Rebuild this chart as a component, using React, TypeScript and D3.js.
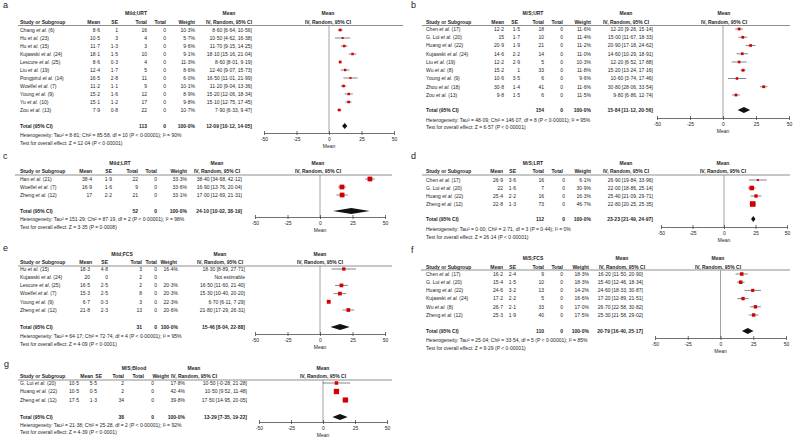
// @ts-nocheck
import React, { useEffect, useRef } from "react";
import * as d3 from "d3";

const FONT = "'Liberation Sans', Arial, sans-serif";
const FS = 5;
const axisTicks = [-50, -25, 0, 25, 50];

// a: Mild;URT
const aStudies = ["Chang et al. (6)", "Hu et al. (23)", "Hu et al. (15)", "Kujawski et al. (24)", "Lescure et al. (25)", "Liu et al. (19)", "Pongpirul et al. (14)", "Woelfel et al. (7)", "Young et al. (9)", "Yu et al. (10)", "Zou et al. (13)"];
const aMean = [8.6, 10.5, 11.7, 18.1, 8.6, 12.4, 16.5, 11.2, 15.2, 15.1, 7.9];
const aSE = [1, 3, 1.3, 1.5, 0.3, 1.7, 2.8, 1.1, 1.6, 1.2, 0.8];
const aTotal = [16, 4, 3, 10, 4, 5, 11, 9, 12, 17, 22];
const aWeight = [10.3, 5.7, 9.6, 9.1, 11.3, 8.6, 6.0, 10.1, 8.9, 9.8, 10.7];
const aLow = [6.64, 4.62, 9.15, 15.16, 8.01, 9.07, 11.01, 9.04, 12.06, 12.75, 6.33];
const aHigh = [10.56, 16.38, 14.25, 21.04, 9.19, 15.73, 21.99, 13.36, 18.34, 17.45, 9.47];
const aPooled = [12.09, 10.12, 14.05];
const aHet = "Heterogeneity: Tau² = 8·81; Chi² = 85·58, df = 10 (P < 0·00001); I² = 90%";
const aTest = "Test for overall effect: Z = 12·04 (P < 0·00001)";

// b: M/S;URT
const bStudies = ["Chen et al. (17)", "G. Lui et al. (20)", "Huang et al. (22)", "Kujawski et al. (24)", "Liu et al. (19)", "Wu et al. (8)", "Young et al. (9)", "Zhou et al. (18)", "Zou et al. (13)"];
const bMean = [12.2, 15, 20.9, 14.6, 12.2, 15.2, 10.6, 30.8, 9.8];
const bSE = [1.5, 1.7, 1.9, 2.2, 2.9, 1, 3.5, 1.4, 1.5];
const bTotal = [18, 10, 21, 14, 5, 33, 6, 41, 6];
const bWeight = [11.6, 11.4, 11.2, 11.0, 10.3, 11.8, 9.6, 11.6, 11.5];
const bLow = [9.26, 11.67, 17.18, 10.29, 6.52, 13.24, 3.74, 28.06, 6.86];
const bHigh = [15.14, 18.33, 24.62, 18.91, 17.88, 17.16, 17.46, 33.54, 12.74];
const bPooled = [15.84, 11.12, 20.56];
const bHet = "Heterogeneity: Tau² = 48·09; Chi² = 146·07, df = 8 (P < 0·00001); I² = 95%";
const bTest = "Test for overall effect: Z = 6·57 (P < 0·00001)";

// c: Mild;LRT
const cStudies = ["Han et al. (21)", "Woelfel et al. (7)", "Zheng et al. (12)"];
const cMean = [38.4, 16.9, 17];
const cSE = [1.9, 1.6, 2.2];
const cTotal = [22, 9, 21];
const cWeight = [33.3, 33.6, 33.1];
const cLow = [34.68, 13.76, 12.69];
const cHigh = [42.12, 20.04, 21.31];
const cPooled = [24.1, 10.02, 38.19];
const cHet = "Heterogeneity: Tau² = 151·29; Chi² = 87·19, df = 2 (P < 0·00001); I² = 98%";
const cTest = "Test for overall effect: Z = 3·35 (P = 0·0008)";

// d: M/S;LRT
const dStudies = ["Chen et al. (17)", "G. Lui et al. (20)", "Huang et al. (22)", "Zheng et al. (12)"];
const dMean = [26.9, 22, 25.4, 22.8];
const dSE = [3.6, 1.6, 2.2, 1.3];
const dTotal = [16, 7, 16, 73];
const dWeight = [6.1, 30.9, 16.3, 46.7];
const dLow = [19.84, 18.86, 21.09, 20.25];
const dHigh = [33.96, 25.14, 29.71, 25.35];
const dPooled = [23.23, 21.49, 24.97];
const dHet = "Heterogeneity: Tau² = 0·00; Chi² = 2·71, df = 3 (P = 0·44); I² = 0%";
const dTest = "Test for overall effect: Z = 26·14 (P < 0·00001)";

// e: Mild;FCS
const eStudies = ["Hu et al. (15)", "Kujawski et al. (24)", "Lescure et al. (25)", "Woelfel et al. (7)", "Young et al. (9)", "Zheng et al. (12)"];
const eMean = [18.3, 20, 16.5, 15.3, 6.7, 21.8];
const eSE = [4.8, 0, 2.5, 2.5, 0.3, 2.3];
const eTotal = [3, 2, 2, 8, 3, 13];
const eWeight = [16.4, null, 20.3, 20.3, 22.3, 20.6];
const eLow = [8.89, null, 11.6, 10.4, 6.11, 17.29];
const eHigh = [27.71, null, 21.4, 20.2, 7.29, 26.31];
const ePooled = [15.46, 8.04, 22.88];
const eHet = "Heterogeneity: Tau² = 64·17; Chi² = 72·74, df = 4 (P < 0·00001); I² = 95%";
const eTest = "Test for overall effect: Z = 4·09 (P < 0·0001)";

// f: M/S;FCS
const fStudies = ["Chen et al. (17)", "G. Lui et al. (20)", "Huang et al. (22)", "Kujawski et al. (24)", "Wu et al. (8)", "Zheng et al. (12)"];
const fMean = [16.2, 15.4, 24.6, 17.2, 26.7, 25.3];
const fSE = [2.4, 1.5, 3.2, 2.2, 2.1, 1.9];
const fTotal = [9, 10, 13, 5, 33, 40];
const fWeight = [18.3, 18.3, 14.2, 16.6, 17.0, 17.5];
const fLow = [11.5, 12.46, 18.33, 12.89, 22.58, 21.58];
const fHigh = [20.9, 18.34, 30.87, 21.51, 30.82, 29.02];
const fPooled = [20.79, 16.4, 25.17];
const fHet = "Heterogeneity: Tau² = 25·04; Chi² = 33·54, df = 5 (P < 0·00001); I² = 85%";
const fTest = "Test for overall effect: Z = 9·29 (P < 0·00001)";

// g: M/S;Blood
const gStudies = ["G. Lui et al. (20)", "Huang et al. (22)", "Zheng et al. (12)"];
const gMean = [10.5, 10.5, 17.5];
const gSE = [5.5, 0.5, 1.3];
const gTotal = [2, 2, 34];
const gWeight = [17.8, 42.4, 39.8];
const gLow = [-0.28, 9.52, 14.95];
const gHigh = [21.28, 11.48, 20.05];
const gPooled = [13.29, 7.35, 19.22];
const gHet = "Heterogeneity: Tau² = 21·38; Chi² = 25·28, df = 2 (P < 0·00001); I² = 92%";
const gTest = "Test for overall effect: Z = 4·39 (P < 0·0001)";

const panels = [
  {
    label: "a", title: "Mild;URT",
    data: { studies: aStudies, mean: aMean, se: aSE, total: aTotal, weight: aWeight, low: aLow, high: aHigh, pooled: aPooled, het: aHet, test: aTest },
    lay: { lx: 3, ly: 5, titleY: 13, headY: 22, lineY: 25.5, line: [18, 403], y0: 30, step: 8, totY: 126, hetY: 135, testY: 143, axY: 133, xr: [264, 394],
      hd: { study: 20, mean: 100, se: 118, tot: 147, tot2: 166, wt: 195, iv: 229, title: 136, right: 328 },
      col: { mean: 100, se: 118, tot: 147, tot2: 166, wt: 195, ci: 252 } },
  },
  {
    label: "b", title: "M/S;URT",
    data: { studies: bStudies, mean: bMean, se: bSE, total: bTotal, weight: bWeight, low: bLow, high: bHigh, pooled: bPooled, het: bHet, test: bTest },
    lay: { lx: 411, ly: 5, titleY: 13, headY: 22, lineY: 25.5, line: [422, 790], y0: 29, step: 8.25, totY: 110, hetY: 120, testY: 127, axY: 118, xr: [657, 789],
      hd: { study: 426, mean: 504, se: 518, tot: 544, tot2: 563, wt: 591, iv: 626, title: 533, right: 724 },
      col: { mean: 504, se: 520, tot: 544, tot2: 563, wt: 591, ci: 653 } },
  },
  {
    label: "c", title: "Mild;LRT",
    data: { studies: cStudies, mean: cMean, se: cSE, total: cTotal, weight: cWeight, low: cLow, high: cHigh, pooled: cPooled, het: cHet, test: cTest },
    lay: { lx: 3, ly: 156, titleY: 163, headY: 171, lineY: 175, line: [15, 392], y0: 179, step: 8, totY: 211, hetY: 219, testY: 227, axY: 217, xr: [255, 385],
      hd: { study: 20, mean: 92, se: 112, tot: 138, tot2: 157, wt: 187, iv: 217, title: 120, right: 318 },
      col: { mean: 92, se: 112, tot: 138, tot2: 157, wt: 187, ci: 242 } },
  },
  {
    label: "d", title: "M/S;LRT",
    data: { studies: dStudies, mean: dMean, se: dSE, total: dTotal, weight: dWeight, low: dLow, high: dHigh, pooled: dPooled, het: dHet, test: dTest },
    lay: { lx: 411, ly: 156, titleY: 163, headY: 171, lineY: 175, line: [422, 790], y0: 180, step: 8, totY: 219, hetY: 229, testY: 237, axY: 227, xr: [661, 787],
      hd: { study: 426, mean: 503, se: 516, tot: 544, tot2: 563, wt: 591, iv: 626, title: 533, right: 723 },
      col: { mean: 503, se: 516, tot: 544, tot2: 565, wt: 591, ci: 653 } },
  },
  {
    label: "e", title: "Mild;FCS",
    data: { studies: eStudies, mean: eMean, se: eSE, total: eTotal, weight: eWeight, low: eLow, high: eHigh, pooled: ePooled, het: eHet, test: eTest },
    lay: { lx: 3, ly: 248, titleY: 254, headY: 262, lineY: 266, line: [18, 392], y0: 269, step: 8.2, totY: 327, hetY: 336, testY: 344, axY: 334, xr: [255, 385],
      hd: { study: 20, mean: 92, se: 108, tot: 142, tot2: 157, wt: 177, iv: 220, title: 122, right: 320 },
      col: { mean: 90, se: 108, tot: 142, tot2: 157, wt: 178, ci: 245 } },
  },
  {
    label: "f", title: "M/S;FCS",
    data: { studies: fStudies, mean: fMean, se: fSE, total: fTotal, weight: fWeight, low: fLow, high: fHigh, pooled: fPooled, het: fHet, test: fTest },
    lay: { lx: 411, ly: 250, titleY: 258, headY: 267, lineY: 270, line: [421, 790], y0: 274, step: 8.2, totY: 331, hetY: 340, testY: 348, axY: 338, xr: [655, 786],
      hd: { study: 426, mean: 503, se: 516, tot: 544, tot2: 563, wt: 589, iv: 622, title: 533, right: 718 },
      col: { mean: 503, se: 516, tot: 544, tot2: 563, wt: 589, ci: 643 } },
  },
  {
    label: "g", title: "M/S;Blood",
    data: { studies: gStudies, mean: gMean, se: gSE, total: gTotal, weight: gWeight, low: gLow, high: gHigh, pooled: gPooled, het: gHet, test: gTest },
    lay: { lx: 4, ly: 364, titleY: 368, headY: 376, lineY: 380, line: [18, 392], y0: 383, step: 8.5, totY: 417, hetY: 425, testY: 432, axY: 422, xr: [259, 387],
      hd: { study: 20, mean: 93, se: 102, tot: 124, tot2: 144, wt: 169, iv: 194, title: 134, right: 323 },
      col: { mean: 79, se: 97, tot: 124, tot2: 154, wt: 185, ci: 247 } },
  },
];

const num = (v) => String(v).replace(".", "·");
const fix2 = (v) => v.toFixed(2).replace(".", "·");
const ciText = (m, lo, hi) => `${fix2(m)} [${fix2(lo)}, ${fix2(hi)}]`;

function StudyName({ name, x, y }) {
  const parts = name.split(" et al. ");
  return (
    <text x={x} y={y} dy="0.35em">
      {parts[0]} <tspan fontStyle="italic">et al.</tspan> {parts[1]}
    </text>
  );
}

function Panel({ p }) {
  const axRef = useRef(null);
  const { data: dt, lay } = p;
  const x = d3.scaleLinear().domain([-50, 50]).range(lay.xr);
  const rowY = (i) => lay.y0 + i * lay.step;
  const side = d3.scaleSqrt().domain([0, 100]).range([0, 8.2]);

  useEffect(() => {
    const g = d3.select(axRef.current);
    g.call(d3.axisBottom(x).tickValues(axisTicks).tickSize(2).tickSizeOuter(0).tickPadding(2).tickFormat((d) => String(d)));
    g.select(".domain").attr("stroke", "#333").attr("stroke-width", 0.7);
    g.selectAll(".tick line").attr("y1", -2).attr("y2", 2).attr("stroke", "#333").attr("stroke-width", 0.7);
    g.selectAll(".tick text").attr("font-size", FS).attr("fill", "#222").attr("font-family", FONT);
  }, []);

  const [pm, plo, phi] = dt.pooled;
  const { hd, col } = lay;
  const tc = lay.totY;

  return (
    <g fontFamily={FONT} fontSize={FS} fill="#1e1e1e">
      <text x={lay.lx} y={lay.ly} dy="0.35em" fontSize={9} fill="#222">{p.label}</text>
      {/* headers */}
      <g fontWeight="bold">
        <text x={hd.title} y={lay.titleY} dy="0.35em" textAnchor="middle">{p.title}</text>
        <text x={hd.iv} y={lay.titleY} dy="0.35em" textAnchor="middle">Mean</text>
        <text x={hd.right} y={lay.titleY} dy="0.35em" textAnchor="middle">Mean</text>
        <text x={hd.study} y={lay.headY} dy="0.35em">Study or Subgroup</text>
        <text x={hd.mean} y={lay.headY} dy="0.35em" textAnchor="end">Mean</text>
        <text x={hd.se} y={lay.headY} dy="0.35em" textAnchor="end">SE</text>
        <text x={hd.tot} y={lay.headY} dy="0.35em" textAnchor="end">Total</text>
        <text x={hd.tot2} y={lay.headY} dy="0.35em" textAnchor="end">Total</text>
        <text x={hd.wt} y={lay.headY} dy="0.35em" textAnchor="end">Weight</text>
        <text x={hd.iv} y={lay.headY} dy="0.35em" textAnchor="middle">IV, Random, 95% CI</text>
        <text x={hd.right} y={lay.headY} dy="0.35em" textAnchor="middle">IV, Random, 95% CI</text>
      </g>
      <line x1={lay.line[0]} x2={lay.line[1]} y1={lay.lineY} y2={lay.lineY} stroke="#444" strokeWidth={0.6} />
      {/* zero line */}
      <line x1={x(0)} x2={x(0)} y1={lay.lineY} y2={lay.axY} stroke="#8a8a8a" strokeWidth={0.8} />
      {/* study rows */}
      {dt.studies.map((s, i) => {
        const y = rowY(i);
        const w = dt.weight[i];
        const sz = w == null ? 0 : side(w);
        return (
          <g key={s}>
            <StudyName name={s} x={hd.study} y={y} />
            <text x={col.mean} y={y} dy="0.35em" textAnchor="end">{num(dt.mean[i])}</text>
            <text x={col.se} y={y} dy="0.35em" textAnchor="end">{num(dt.se[i])}</text>
            <text x={col.tot} y={y} dy="0.35em" textAnchor="end">{dt.total[i]}</text>
            <text x={col.tot2} y={y} dy="0.35em" textAnchor="end">0</text>
            <text x={col.wt} y={y} dy="0.35em" textAnchor="end">{w == null ? "" : `${w.toFixed(1).replace(".", "·")}%`}</text>
            <text x={col.ci} y={y} dy="0.35em" textAnchor="end">
              {w == null ? "Not estimable" : ciText(dt.mean[i], dt.low[i], dt.high[i])}
            </text>
            {w != null && (
              <g>
                <line x1={x(dt.low[i])} x2={x(dt.high[i])} y1={y} y2={y} stroke="#333" strokeWidth={0.6} />
                <rect x={x(dt.mean[i]) - sz / 2} y={y - sz / 2} width={sz} height={sz} fill="#d40000" />
              </g>
            )}
          </g>
        );
      })}
      {/* total */}
      <g fontWeight="bold">
        <text x={hd.study} y={tc} dy="0.35em">Total (95% CI)</text>
        <text x={col.tot} y={tc} dy="0.35em" textAnchor="end">{d3.sum(dt.total)}</text>
        <text x={col.tot2} y={tc} dy="0.35em" textAnchor="end">0</text>
        <text x={col.wt} y={tc} dy="0.35em" textAnchor="end">100·0%</text>
        <text x={col.ci} y={tc} dy="0.35em" textAnchor="end">{ciText(pm, plo, phi)}</text>
      </g>
      <path
        d={`M${x(plo)},${tc} L${x(pm)},${tc - 3} L${x(phi)},${tc} L${x(pm)},${tc + 3} Z`}
        fill="#111"
      />
      <text x={hd.study} y={lay.hetY} dy="0.35em">{dt.het}</text>
      <text x={hd.study} y={lay.testY} dy="0.35em">{dt.test}</text>
      <g ref={axRef} transform={`translate(0,${lay.axY})`} />
      <text x={x(0)} y={lay.axY + 13} dy="0.35em" textAnchor="middle">Mean</text>
    </g>
  );
}

export default function App() {
  return (
    <svg width={796} height={444} style={{ position: "absolute", left: 0, top: 0, background: "#fff" }}>
      <rect width={796} height={444} fill="#fff" />
      {panels.map((p) => (
        <Panel key={p.label} p={p} />
      ))}
    </svg>
  );
}
